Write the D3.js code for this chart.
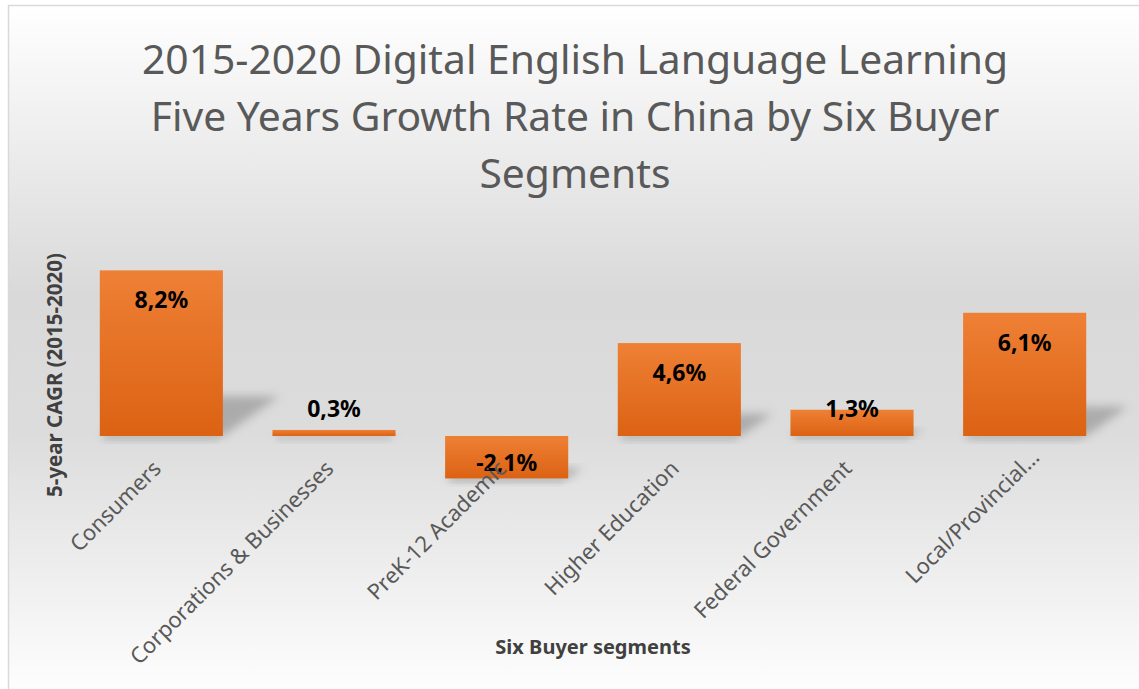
<!DOCTYPE html>
<html>
<head>
<meta charset="utf-8">
<script src="https://cdn.jsdelivr.net/npm/d3@7"></script>
<style>
  html, body { margin: 0; padding: 0; background: #fff; }
  svg { display: block; font-family: "Noto Sans", "Open Sans", sans-serif; }
</style>
</head>
<body>
<div id="chart"></div>
<script>
// data
var categories = ["Consumers", "Corporations & Businesses", "PreK-12 Academic", "Higher Education", "Federal Government", "Local/Provincial\u2026"];
var values = [8.2, 0.3, -2.1, 4.6, 1.3, 6.1];
var titleLines = ["2015-2020 Digital English Language Learning", "Five Years Growth Rate in China by Six Buyer", "Segments"];
var yTitle = "5-year CAGR (2015-2020)";
var xTitle = "Six Buyer segments";

var width = 1139, height = 689;

var svg = d3.select("#chart").append("svg")
	.attr("width", width)
	.attr("height", height);

var defs = svg.append("defs");

// chart background
var bg = defs.append("linearGradient").attr("id", "bg").attr("x1", 0).attr("y1", 0).attr("x2", 0).attr("y2", 1);
bg.append("stop").attr("offset", "0%").attr("stop-color", "#ffffff");
bg.append("stop").attr("offset", "42%").attr("stop-color", "#d9d9d9");
bg.append("stop").attr("offset", "62%").attr("stop-color", "#dcdcdc");
bg.append("stop").attr("offset", "100%").attr("stop-color", "#fefefe");

var barGrad = defs.append("linearGradient").attr("id", "barGrad").attr("x1", 0).attr("y1", 0).attr("x2", 0).attr("y2", 1);
barGrad.append("stop").attr("offset", "0%").attr("stop-color", "#ee8035");
barGrad.append("stop").attr("offset", "100%").attr("stop-color", "#dc6213");

defs.append("filter").attr("id", "blur").attr("x", "-50%").attr("y", "-50%").attr("width", "200%").attr("height", "200%")
	.append("feGaussianBlur").attr("stdDeviation", 5);
defs.append("filter").attr("id", "blurSmall").attr("x", "-20%").attr("y", "-50%").attr("width", "140%").attr("height", "200%")
	.append("feGaussianBlur").attr("stdDeviation", 3);

svg.append("rect")
	.attr("x", 8.5).attr("y", 5.5)
	.attr("width", width).attr("height", height)
	.attr("fill", "url(#bg)")
	.attr("stroke", "#d9d9d9")
	.attr("stroke-width", 1.5);

// scales
var x = d3.scaleBand()
	.domain(categories)
	.range([75, 1111])
	.paddingInner(0.287)
	.paddingOuter(0.1435);

var y = d3.scaleLinear()
	.domain([-3, 9])
	.range([436 + 3 * 20.2, 436 - 9 * 20.2]);

var data = categories.map(function (c, i) { return { name: c, v: values[i] }; });

// perspective shadows
svg.append("g").selectAll("polygon")
	.data(data)
	.enter()
	.append("polygon")
	.attr("points", function (d) {
		var x0 = x(d.name), x1 = x0 + x.bandwidth();
		var yb = d.v >= 0 ? y(0) : y(d.v);
		var h = Math.abs(y(d.v) - y(0));
		var dx = h * 0.34, dy = h * 0.24;
		return x0 + "," + yb + " " + x1 + "," + yb + " " + (x1 + dx) + "," + (yb - dy) + " " + (x0 + dx) + "," + (yb - dy);
	})
	.attr("fill", "#8c8c8c")
	.attr("opacity", 0.6)
	.attr("filter", "url(#blur)");

// soft shadow under bars
svg.append("g").selectAll("rect")
	.data(data)
	.enter()
	.append("rect")
	.attr("x", function (d) { return x(d.name) + 4; })
	.attr("y", function (d) { return (d.v >= 0 ? y(0) : y(d.v)) - 1; })
	.attr("width", x.bandwidth() - 8)
	.attr("height", 6)
	.attr("fill", "#b5b5b5")
	.attr("opacity", 0.6)
	.attr("filter", "url(#blurSmall)");

// bars
svg.append("g").selectAll("rect")
	.data(data)
	.enter()
	.append("rect")
	.attr("x", function (d) { return x(d.name); })
	.attr("y", function (d) { return Math.min(y(d.v), y(0)); })
	.attr("width", x.bandwidth())
	.attr("height", function (d) { return Math.abs(y(d.v) - y(0)); })
	.attr("fill", "url(#barGrad)");

// value labels (inside end, pushed out for short bars)
svg.append("g").selectAll("text")
	.data(data)
	.enter()
	.append("text")
	.attr("x", function (d) { return x(d.name) + x.bandwidth() / 2; })
	.attr("y", function (d) {
		if (d.v >= 0) return Math.min(y(d.v) + 30, y(0) - 27);
		return Math.max(y(d.v) - 30, y(0) + 27);
	})
	.attr("dy", "0.35em")
	.attr("text-anchor", "middle")
	.attr("font-size", 23)
	.attr("font-weight", "bold")
	.attr("fill", "#000")
	.text(function (d) { return d3.format(".1f")(d.v).replace("\u2212", "-").replace(".", ",") + "%"; });

// category axis labels
var xAxis = d3.axisBottom(x).tickSize(0).tickPadding(0);
var gx = svg.append("g")
	.attr("transform", "translate(0," + y(0) + ")")
	.call(xAxis);
gx.select(".domain").remove();
gx.selectAll(".tick text")
	.attr("font-family", "\"Noto Sans\", \"Open Sans\", sans-serif")
	.attr("font-size", 22)
	.attr("fill", "#595959")
	.attr("text-anchor", "end")
	.attr("y", 0)
	.attr("dy", 0)
	.attr("transform", function (d) {
		// truncated label sits a bit further along its baseline
		var s = d.slice(-1) === "\u2026" ? 19 : 0;
		return "translate(" + (1 + s * 0.8) + "," + (34 - s * 0.6) + ") rotate(-45)";
	});

// title
svg.append("text")
	.attr("x", 575)
	.attr("y", 74)
	.attr("text-anchor", "middle")
	.attr("font-size", 40.8)
	.attr("fill", "#595959")
	.selectAll("tspan")
	.data(titleLines)
	.enter()
	.append("tspan")
	.attr("x", 575)
	.attr("dy", function (d, i) { return i === 0 ? 0 : 57; })
	.text(function (d) { return d; });

// axis titles
svg.append("text")
	.attr("transform", "translate(62,375) rotate(-90)")
	.attr("text-anchor", "middle")
	.attr("font-size", 20.5)
	.attr("font-weight", "bold")
	.attr("fill", "#404040")
	.text(yTitle);

svg.append("text")
	.attr("x", 593)
	.attr("y", 654)
	.attr("text-anchor", "middle")
	.attr("font-size", 20)
	.attr("font-weight", "bold")
	.attr("fill", "#404040")
	.text(xTitle);
</script>
</body>
</html>
